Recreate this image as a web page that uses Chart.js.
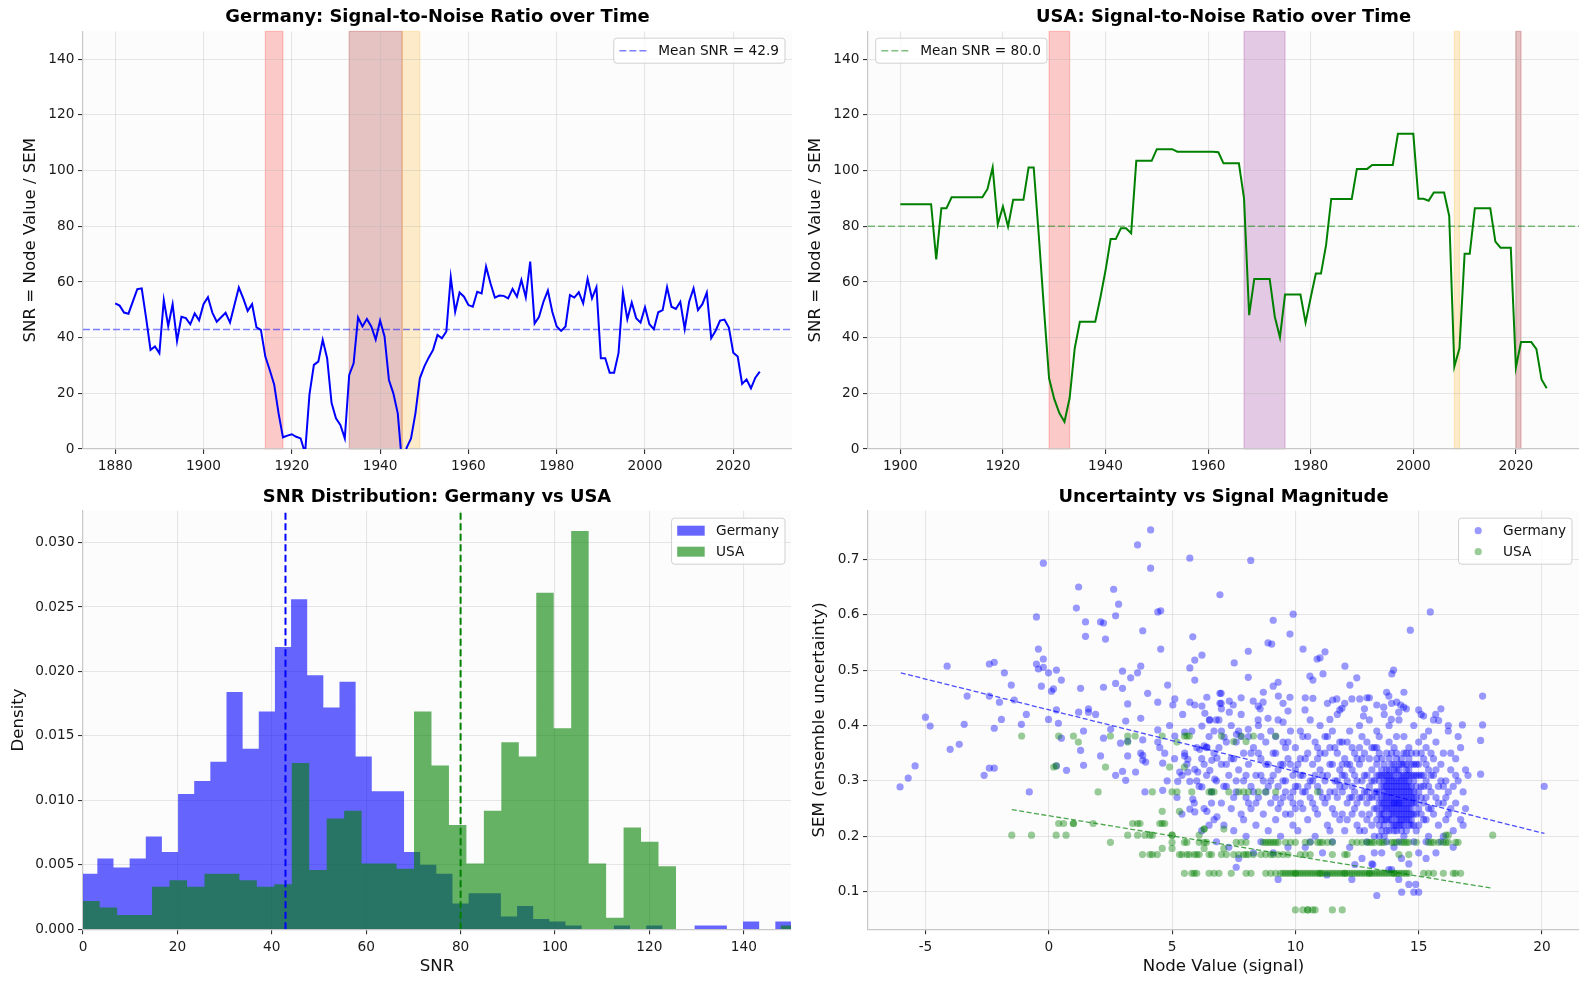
<!DOCTYPE html>
<html>
<head>
<meta charset="utf-8">
<title>SNR: Germany vs USA</title>
<script src="https://cdn.jsdelivr.net/npm/chart.js@4.4.0/dist/chart.umd.min.js"></script>
<style>
  html, body { margin: 0; padding: 0; background: #fff; }
  body { width: 1587px; height: 986px; position: relative; overflow: hidden; }
  canvas { position: absolute; }
</style>
</head>
<body>
<canvas id="germanyTs" width="800" height="490" style="left:0;top:0"></canvas>
<canvas id="usaTs" width="787" height="490" style="left:800px;top:0"></canvas>
<canvas id="snrHist" width="800" height="506" style="left:0;top:480px"></canvas>
<canvas id="semScatter" width="787" height="506" style="left:800px;top:480px"></canvas>
<script>
const FONT = "'DejaVu Sans', sans-serif";

// ---- yearly SNR series
const germanyStartYear = 1880;
const germanySnr = [
  52.3, 51.5, 49, 48.6, 53, 57.4, 57.7, 47, 35.6, 36.8,      // 1880s
  34.4, 53.5, 44.2, 52, 38.8, 47.5, 47, 44.8, 48.7, 46.2,    // 1890s
  52, 54.5, 49, 45.7, 47.3, 48.9, 45.4, 51.7, 58, 54.1,      // 1900s
  49.6, 52, 43.7, 42.8, 33.2, 28.4, 23.2, 12.8, 4.2, 4.8,    // 1910s
  5.3, 4.4, 3.8, -1.5, 19.6, 30.2, 31.4, 39.2, 32.6, 16.6,   // 1920s
  11, 8.6, 3.8, 26.6, 30.8, 47.3, 44, 46.7, 44, 39.3,        // 1930s
  46.1, 40.4, 24.8, 20, 12.8, -6, 0.4, 3.8, 12.8, 25.4,      // 1940s
  29.6, 32.8, 35.6, 41, 39.8, 42.2, 61.7, 49.3, 56.2, 54.7,  // 1950s
  51.7, 51.1, 56.5, 55.9, 65.5, 59.5, 54.4, 55.1, 55, 54.1,  // 1960s
  57.5, 54.7, 60.7, 54.5, 67.3, 45.1, 47.5, 52.9, 56.9, 49.3,// 1970s
  44, 42.4, 44, 55.3, 54.4, 56.3, 52.3, 61.1, 54.1, 58.1,    // 1980s
  32.6, 32.6, 27.4, 27.4, 34.4, 56.2, 46.6, 52.6, 47, 45.4,  // 1990s
  50.9, 44.8, 43, 49.1, 49.9, 58.1, 51.1, 50.3, 52.9, 43.1,  // 2000s
  52.9, 57.7, 49.9, 52, 56.2, 39.8, 42.5, 46.1, 46.5, 43.6,  // 2010s
  34.6, 33.2, 23.4, 25, 21.8, 25.6, 27.8                     // 2020s
];
const germanyMeanSnr = 42.9;

const usaStartYear = 1900;
const usaSnr = [
  87.9, 87.9, 87.9, 87.9, 87.9, 87.9, 87.9, 68.1, 86.5, 86.5,
  90.4, 90.4, 90.4, 90.4, 90.4, 90.4, 90.4, 93.4, 101.1, 80.7,
  87.1, 79.9, 89.5, 89.5, 89.5, 101.1, 101.1, 76.5, 50.4, 25.4,
  18, 12.9, 9.8, 18.2, 36.2, 45.7, 45.7, 45.7, 45.7, 54.4,
  64.1, 75.4, 75.4, 79.3, 79.3, 77.5, 103.5, 103.5, 103.5, 103.5,
  107.7, 107.7, 107.7, 107.7, 106.8, 106.8, 106.8, 106.8, 106.8, 106.8,
  106.8, 106.8, 106.6, 102.6, 102.6, 102.6, 102.6, 90, 48.1, 61.1,
  61.1, 61.1, 61.1, 47.5, 40.1, 55.5, 55.5, 55.5, 55.5, 45.4,
  54.4, 63, 63, 73.3, 89.8, 89.8, 89.8, 89.8, 89.8, 100.6,
  100.6, 100.6, 102, 102, 102, 102, 102, 113.2, 113.2, 113.2,
  113.2, 89.9, 89.9, 89.2, 92.1, 92.1, 92.1, 83.7, 29.6, 36.2,
  70.1, 70.1, 86.5, 86.5, 86.5, 86.5, 74.5, 72.3, 72.3, 72.3,
  29.3, 38.4, 38.4, 38.4, 35.9, 25, 21.8
];
const usaMeanSnr = 80.0;

// shaded periods (years)
const germanyPeriodStart = [1914, 1933, 1945];
const germanyPeriodEnd   = [1918, 1945, 1949];
const usaPeriodStart = [1929, 1967, 2008, 2020];
const usaPeriodEnd   = [1933, 1975, 2009, 2021];

// ---- SNR histograms (density per bin)
const germanyBinStart = -0.38;
const germanyBinWidth = 3.42;
const germanyDensity = [
  0.0043, 0.0055, 0.0048, 0.0055, 0.0072, 0.0060, 0.0105, 0.0115, 0.0130, 0.0184,
  0.0140, 0.0169, 0.0219, 0.0256, 0.0197, 0.0172, 0.0192, 0.0134, 0.0107, 0.0107,
  0.0060, 0.0050, 0.0043, 0.0020, 0.0028, 0.0028, 0.0010, 0.0018, 0.0008, 0.0006,
  0.0003, 0, 0, 0.0003, 0, 0.0003, 0, 0, 0.0003, 0.0003,
  0, 0.0006, 0, 0.0006
];
const usaBinStart = -0.17;
const usaBinWidth = 3.7;
const usaDensity = [
  0.0022, 0.0017, 0.0011, 0.0011, 0.0033, 0.0038, 0.0033, 0.0043, 0.0043, 0.0038,
  0.0033, 0.0035, 0.0129, 0.0046, 0.0086, 0.0092, 0.0051, 0.0051, 0.0047, 0.0169,
  0.0127, 0.0081, 0.0051, 0.0092, 0.0145, 0.0134, 0.0261, 0.0156, 0.0309, 0.0051,
  0.0009, 0.0079, 0.0068, 0.0049, 0, 0, 0, 0, 0, 0,
  0.0003
];

// ---- node value vs SEM  [node value, SEM]
const germanyPoints = [
  [-6.03,.289],[-5.70,.305],[-5.42,.327],[-5.0,.415],[-4.81,.399],[-4.12,.507],[-4.0,.357],[-3.63,.366],[-3.43,.402],[-3.31,.453],
  [-2.62,.310],[-2.41,.511],[-2.41,.453],[-2.41,.323],[-2.21,.514],[-2.21,.395],[-2.21,.323],[-2.0,.442],[-1.92,.411],[-1.80,.495],
  [-1.52,.473],[-1.40,.446],[-1.11,.402],[-0.91,.420],[-0.79,.280],[-0.50,.596],[-0.50,.511],[-0.42,.538],[-0.42,.502],[-0.30,.471],
  [-0.22,.693],[-0.22,.520],[-0.22,.505],[-0.01,.495],[-0.01,.411],[0.11,.462],[0.19,.466],[0.31,.500],[0.31,.428],[0.31,.327],
  [0.39,.404],[0.51,.482],[0.51,.377],[0.72,.319],[1.12,.612],[1.21,.650],[1.21,.424],[1.29,.467],[1.29,.355],[1.41,.390],
  [1.41,.328],[1.49,.587],[1.49,.561],[1.61,.430],[1.61,.424],[1.90,.420],[2.10,.587],[2.10,.345],[2.22,.585],[2.22,.469],
  [2.22,.377],[2.30,.556],[2.51,.393],[2.63,.646],[2.71,.598],[2.71,.476],[2.71,.310],[2.83,.619],[2.91,.368],[2.99,.498],
  [2.99,.467],[2.99,.317],[3.12,.408],[3.12,.301],[3.20,.439],[3.20,.372],[3.20,.345],[3.32,.486],[3.52,.316],[3.60,.726],
  [3.60,.495],[3.73,.507],[3.73,.413],[3.73,.350],[3.81,.571],[3.81,.374],[3.81,.346],[3.81,.337],[3.93,.334],[4.01,.458],
  [4.13,.753],[4.13,.684],[4.42,.605],[4.42,.442],[4.42,.392],[4.42,.370],[4.54,.607],[4.54,.538],[4.62,.332],[4.62,.283],
  [4.70,.350],[4.82,.473],[5.03,.437],[5.11,.448],[5.11,.381],[5.23,.299],[5.31,.316],[5.43,.420],[5.51,.388],[5.51,.350],
  [5.51,.345],[5.64,.339],[5.64,.316],[5.72,.702],[5.72,.504],[5.72,.442],[5.72,.299],[5.72,.249],[5.84,.560],[5.84,.267],
  [5.92,.518],[5.92,.482],[5.92,.437],[5.92,.321],[5.92,.244],[6.04,.316],[6.12,.357],[6.21,.527],[6.21,.435],[6.21,.399],
  [6.21,.289],[6.33,.422],[6.41,.451],[6.41,.361],[6.41,.245],[6.53,.410],[6.53,.319],[6.61,.337],[6.73,.303],[6.82,.235],
  [6.82,.341],[6.94,.458],[6.94,.440],[6.94,.636],[4.8,.30],[5.2,.27],[5.6,.33],[5.9,.26],[6.0,.36],[5.4,.24],[4.5,.36],[3.9,.28],
  [8.19,.698],[9.91,.601],[15.47,.605],[9.10,.590],[14.66,.572],[9.78,.565],[8.89,.549],[10.31,.538],[11.20,.533],[8.09,.534],
  [11.0,.522],[7.52,.513],[12.01,.507],[13.98,.500],[13.91,.493],[10.59,.489],[11.12,.493],[12.49,.486],[8.09,.487],[10.71,.482],
  [9.30,.478],[9.10,.471],[12.21,.473],[6.99,.458],[9.31,.453],[9.78,.451],[10.71,.449],[11.51,.446],[11.68,.448],[12.29,.448],
  [12.61,.448],[13.79,.453],[17.59,.453],[15.0,.428],[15.20,.417],[15.69,.420],[15.81,.409],[16.77,.401],[17.59,.401],[17.51,.373],
  [17.51,.312],[20.09,.290],[8.69,.442],[8.29,.444],[8.49,.435],[8.57,.430],[7.32,.444],[7.48,.437],[7.32,.424],[6.99,.440],
  [6.51,.410],[6.79,.410],[9.70,.426],[10.39,.428],[11.40,.411],[11.80,.428],[11.89,.431],[12.76,.417],[13.30,.437],[13.58,.433],
  [13.89,.411],[14.11,.442],[14.27,.437],[14.39,.433],[14.19,.424],[9.50,.406],[8.89,.413],[8.49,.410],[8.09,.393],[7.61,.384],
  [7.11,.379],[6.30,.363],[9.04,.547],[10.88,.520],
  [13.30,.093],[14.31,.099],[14.80,.099],[15.0,.099],[14.60,.113],[14.88,.113],[9.30,.122],[14.19,.122],[12.29,.122],[7.60,.144],
  [11.28,.130],[13.79,.140],[13.14,.149],[12.41,.149],
  [6.1,.29],[6.2,.34],[6.3,.25],[6.4,.31],[6.5,.38],[6.5,.22],[6.6,.28],[6.7,.35],[6.8,.19],[6.8,.30],
  [6.9,.41],[7.0,.26],[7.0,.33],[7.1,.22],[7.2,.37],[7.2,.29],[7.3,.18],[7.3,.31],[7.4,.40],[7.4,.25],
  [7.5,.34],[7.5,.21],[7.6,.28],[7.6,.37],[7.7,.32],[7.7,.16],[7.8,.24],[7.8,.42],[7.9,.30],[7.9,.35],
  [8.0,.27],[8.0,.20],[8.1,.33],[8.1,.38],[8.2,.25],[8.2,.29],[8.3,.17],[8.3,.36],[8.4,.31],[8.4,.22],
  [8.5,.27],[8.5,.40],[8.6,.34],[8.6,.19],[8.7,.30],[8.7,.24],[8.8,.37],[8.8,.28],[8.9,.21],[8.9,.33],
  [9.0,.26],[9.0,.39],[9.1,.31],[9.1,.17],[9.2,.35],[9.2,.23],[9.3,.29],[9.3,.41],[9.4,.26],[9.4,.20],
  [9.5,.33],[9.5,.37],[9.6,.24],[9.6,.30],[9.7,.18],[9.7,.34],[9.8,.27],[9.8,.39],[9.9,.22],[9.9,.31],
  [10.0,.36],[10.0,.25],[6.9,.36],[7.6,.30],[8.3,.28],[9.0,.30],[9.6,.28],[7.1,.29],[8.8,.33],[9.9,.28],
  [6.4,.36],[7.9,.23],[8.6,.31],[9.3,.32],[6.7,.23],[7.4,.34],[8.1,.26],[9.5,.27],[6.2,.21],[7.0,.39],
  [7.8,.38],[8.5,.35],[9.2,.38],[9.8,.33],
  [10.1,.29],[10.1,.21],[10.2,.34],[10.2,.26],[10.3,.38],[10.3,.31],[10.4,.18],[10.4,.28],[10.5,.35],[10.5,.23],
  [10.6,.30],[10.6,.41],[10.7,.26],[10.7,.33],[10.8,.20],[10.8,.37],[10.9,.29],[10.9,.24],[11.0,.32],[11.0,.40],
  [11.1,.27],[11.1,.17],[11.2,.35],[11.2,.30],[11.3,.22],[11.3,.38],[11.4,.28],[11.4,.33],[11.5,.25],[11.5,.19],
  [11.6,.36],[11.6,.30],[11.7,.27],[11.7,.42],[11.8,.23],[11.8,.32],[11.9,.37],[11.9,.28],[12.0,.21],[12.0,.34],
  [12.1,.30],[12.1,.26],[12.2,.39],[12.2,.18],[12.3,.32],[12.3,.24],[12.4,.35],[12.4,.28],[12.5,.30],[12.5,.22],
  [10.3,.25],[10.8,.31],[11.2,.26],[11.6,.24],[12.0,.29],[12.4,.31],[10.5,.29],[11.0,.35],[11.4,.21],[11.9,.33],
  [12.2,.27],[10.0,.32],[10.6,.19],[11.3,.31],[11.8,.37],[12.3,.36],[10.9,.34],[11.5,.39],[12.1,.23],[10.2,.39],
  [12.6,.27],[12.6,.33],[12.7,.24],[12.7,.30],[12.7,.38],[12.8,.21],[12.8,.28],[12.8,.35],[12.9,.26],[12.9,.31],
  [12.9,.19],[13.0,.29],[13.0,.24],[13.0,.34],[13.0,.41],[13.1,.27],[13.1,.22],[13.1,.32],[13.2,.25],[13.2,.30],
  [13.2,.36],[13.2,.17],[13.3,.28],[13.3,.23],[13.3,.33],[13.4,.26],[13.4,.31],[13.4,.20],[13.4,.38],[13.5,.24],
  [13.5,.29],[13.5,.27],[13.5,.34],[13.6,.22],[13.6,.28],[13.6,.31],[13.6,.25],[13.7,.26],[13.7,.30],[13.7,.23],
  [13.7,.35],[13.7,.19],[13.8,.27],[13.8,.29],[13.8,.24],[13.8,.32],[13.8,.40],[13.9,.25],[13.9,.28],[13.9,.22],
  [13.9,.31],[13.9,.27],[14.0,.26],[14.0,.29],[14.0,.24],[14.0,.33],[14.0,.21],[14.0,.36],[14.1,.27],[14.1,.25],
  [14.1,.30],[14.1,.23],[14.1,.28],[14.2,.26],[14.2,.29],[14.2,.24],[14.2,.32],[14.2,.19],[14.3,.27],[14.3,.25],
  [14.3,.30],[14.3,.22],[14.3,.34],[14.4,.28],[14.4,.26],[14.4,.23],[14.4,.31],[14.4,.38],[14.5,.27],[14.5,.24],
  [14.5,.29],[14.5,.21],[14.5,.33],[14.6,.26],[14.6,.28],[14.6,.23],[14.6,.31],[14.7,.25],[14.7,.29],[14.7,.22],
  [14.7,.35],[14.8,.27],[14.8,.24],[14.8,.31],[14.8,.19],[14.9,.26],[14.9,.29],[14.9,.33],[15.0,.25],[15.0,.28],
  [15.0,.22],[15.0,.37],[15.1,.27],[15.1,.31],[15.1,.24],[15.2,.29],[15.2,.26],[15.2,.34],[15.3,.23],[15.3,.30],
  [15.3,.27],[15.4,.25],[15.4,.32],[15.4,.20],[15.5,.28],[15.5,.35],
  [12.6,.40],[12.8,.43],[13.0,.45],[13.3,.39],[13.6,.42],[13.9,.44],[14.2,.41],[14.5,.43],[14.8,.40],[15.1,.42],
  [15.4,.39],[12.7,.16],[13.1,.15],[13.5,.17],[13.9,.14],[14.3,.16],[14.6,.15],[15.0,.17],[15.3,.16],[12.9,.37],
  [13.3,.36],[13.8,.37],[14.1,.38],[14.6,.36],[15.0,.33],[15.2,.38],[13.6,.20],[14.0,.18],[14.4,.20],[14.9,.21],
  [15.3,.19],[12.6,.21],[13.2,.20],
  [13.4,.28],[13.5,.25],[13.6,.27],[13.7,.28],[13.8,.26],[13.9,.30],[14.0,.27],[14.1,.26],[14.2,.28],[14.3,.29],
  [14.4,.27],[14.5,.26],[14.6,.29],[14.7,.27],[13.5,.31],[13.7,.32],[14.0,.31],[14.2,.30],[14.4,.30],[14.6,.32],
  [13.6,.24],[13.8,.23],[14.1,.24],[14.3,.24],[14.5,.25],[14.7,.24],[13.9,.26],[14.2,.25],[14.4,.25],[14.0,.28],
  [13.8,.30],[14.3,.28],[14.6,.27],[13.4,.24],[13.6,.30],[14.1,.32],[14.8,.28],[13.7,.27],[14.2,.27],[14.5,.28],
  [13.3,.27],[13.3,.31],[13.4,.22],[13.5,.32],[13.5,.21],[13.6,.26],[13.6,.33],[13.7,.25],[13.7,.29],[13.8,.21],
  [13.8,.25],[13.8,.34],[13.9,.24],[13.9,.29],[13.9,.33],[14.0,.22],[14.0,.25],[14.0,.30],[14.1,.21],[14.1,.29],
  [14.1,.34],[14.2,.23],[14.2,.31],[14.2,.33],[14.3,.26],[14.3,.31],[14.3,.21],[14.4,.24],[14.4,.29],[14.4,.33],
  [14.5,.23],[14.5,.30],[14.5,.31],[14.6,.25],[14.6,.22],[14.6,.34],[14.7,.26],[14.7,.31],[14.7,.28],[14.8,.26],
  [14.8,.22],[14.8,.33],[14.9,.24],[14.9,.27],[14.9,.31],[13.4,.30],[13.6,.29],[13.8,.28],[14.0,.26],[14.2,.26],
  [14.4,.22],[14.6,.30],[13.5,.26],[13.7,.31],[13.9,.23],[14.1,.22],[14.3,.33],[14.5,.32],[14.7,.23],[13.6,.23],
  [13.8,.31],[14.0,.32],[14.2,.22],[14.4,.35],[14.6,.24],[14.8,.30],[13.3,.25],[13.5,.23],[13.7,.21],[13.9,.35],
  [14.1,.35],[14.3,.23],[14.5,.35],[14.7,.33],
  [15.6,.24],[15.6,.31],[15.7,.27],[15.7,.37],[15.8,.22],[15.8,.29],[15.9,.33],[15.9,.19],[16.0,.26],[16.0,.35],
  [16.1,.30],[16.1,.23],[16.2,.28],[16.2,.39],[16.3,.25],[16.3,.32],[16.4,.21],[16.4,.29],[16.5,.34],[16.5,.26],
  [16.6,.30],[16.7,.23],[16.7,.36],[16.8,.28],[16.9,.32],[16.9,.25],[15.6,.41],[15.9,.43],[16.2,.40],[16.6,.38],
  [15.7,.17],[16.0,.20],[16.4,.18],[16.8,.22],[17.0,.31],
  [7.2,.33],[7.5,.27],[7.7,.39],[8.0,.31],[8.2,.35],[8.4,.26],[8.6,.38],[8.9,.29],[9.1,.35],[9.3,.25],
  [9.5,.30],[9.7,.37],[9.9,.26],[10.1,.33],[10.3,.28],[10.5,.38],[10.7,.30],[10.9,.36],[11.1,.31],[11.3,.27],
  [11.5,.33],[11.7,.35],[11.9,.24],[12.1,.37],[12.3,.29],[12.5,.34],[12.7,.27],[12.9,.23],[13.1,.36],[13.3,.34],
  [9.2,.27],[9.4,.33],[9.6,.36],[9.8,.24],[10.0,.29],[10.2,.31],[10.4,.34],[10.6,.27],[10.8,.25],[11.0,.28],
  [11.2,.38],[11.4,.36],[11.6,.28],[11.8,.29],[12.0,.31],[12.2,.33],[12.4,.25],[12.6,.36],[12.8,.31],[13.0,.27],
  [12.9,.28],[13.1,.30],[13.2,.28],[13.4,.35],[12.7,.34],[12.5,.26],[12.3,.27],[12.1,.33],[11.9,.31],[11.7,.30],
  [15.1,.35],[15.2,.23],[15.3,.33],[15.4,.29],[15.5,.25],[15.6,.34],[15.8,.26],[15.9,.30],[16.1,.27],[16.3,.35],
  [15.0,.31],[15.1,.29],[15.2,.31],[14.9,.35],[15.3,.36],[15.5,.31],[15.7,.32],[16.0,.29],[16.2,.24],[16.5,.31],
  [7.0,.43],[7.8,.45],[8.7,.46],[9.5,.44],[10.4,.45],[11.3,.44],[12.0,.44],[12.9,.45],[13.7,.46],[14.4,.46],
  [5.4,.31],[6.0,.30],[6.6,.26],[5.1,.34],[6.3,.33],[4.9,.40],[5.8,.39],[6.7,.39]
];
const usaPoints = [
  [-1.1,.381],[0.4,.381],[1.0,.381],[2.5,.381],[3.2,.381],[3.5,.381],[4.6,.381],[5.5,.381],[5.6,.381],[5.7,.381],
  [7.0,.381],[7.8,.381],[8.3,.381],[9.2,.381],[1.2,.370],[3.2,.370],[5.2,.370],[7.5,.371],[8.0,.371],
  [0.2,.325],[0.3,.327],[2.3,.325],[4.9,.325],[5.5,.325],
  [2.0,.28],[4.2,.28],[5.0,.28],[5.2,.28],[5.8,.28],[6.5,.28],[6.6,.28],[6.7,.28],[7.3,.28],[7.7,.28],
  [7.9,.28],[8.1,.28],[8.5,.28],[8.8,.28],[9.2,.28],[10.9,.28],
  [4.6,.245],[5.3,.245],
  [0.4,.223],[0.6,.223],[1.0,.223],[1.0,.223],[1.8,.223],[3.4,.223],[3.6,.223],[3.7,.223],[4.5,.223],[4.6,.223],[4.7,.223],
  [6.3,.213],[6.3,.213],[7.1,.213],
  [-1.5,.202],[-0.7,.202],[0.3,.202],[0.7,.202],[3.2,.202],[3.6,.202],[3.9,.202],[4.1,.202],[4.2,.202],[5.0,.202],
  [5.0,.202],[6.1,.202],[16.1,.202],[16.2,.202],[18.0,.202],
  [2.5,.189],[5.0,.189],[5.5,.189],[5.6,.189],[6.1,.189],[6.4,.189],[7.6,.189],[7.8,.189],[8.0,.189],[8.7,.189],
  [8.9,.189],[9.1,.189],[9.3,.189],[9.6,.189],[9.8,.189],[10.0,.189],[10.4,.189],[10.6,.189],[10.9,.189],[11.1,.189],
  [11.3,.189],[11.5,.189],[12.3,.189],[12.5,.189],[12.7,.189],[13.2,.189],[13.4,.189],[13.9,.189],[14.1,.189],[14.4,.189],
  [14.6,.189],[14.9,.189],[15.4,.189],[15.6,.189],[15.8,.189],[16.0,.189],[16.2,.189],[16.5,.189],[9.2,.189],[11.0,.189],
  [13.0,.189],[13.6,.189],[14.0,.189],[15.5,.189],[12.9,.189],[13.1,.189],[13.5,.189],[14.3,.189],[14.5,.189],[8.8,.189],
  [9.0,.189],[16.1,.189],[16.6,.189],[6.3,.189],
  [4.6,.178],[5.0,.178],[6.3,.178],[7.1,.178],
  [3.8,.167],[4.1,.167],[4.2,.167],[4.4,.167],[5.3,.167],[5.4,.167],[5.6,.167],[5.7,.167],[5.9,.167],[6.0,.167],
  [6.1,.167],[6.5,.167],[6.6,.167],[7.0,.167],[7.2,.167],[7.5,.167],[7.7,.167],[7.9,.167],[8.1,.167],[8.3,.167],
  [8.6,.167],[8.8,.167],[9.0,.167],[9.3,.167],[9.5,.167],[9.7,.167],[10.4,.167],[10.6,.167],[11.5,.167],[12.0,.167],
  [12.1,.167],[14.2,.167],[14.6,.167],[8.0,.167],[9.1,.167],[10.2,.167],
  [5.5,.133],[5.8,.133],[5.9,.133],[6.0,.133],[6.5,.133],[6.7,.133],[6.9,.133],[7.4,.133],[8.0,.133],[8.2,.133],
  [8.8,.133],[9.0,.133],[9.2,.133],[9.4,.133],[9.6,.133],[9.8,.133],[10.0,.133],[10.2,.133],[10.4,.133],[10.6,.133],
  [10.8,.133],[11.0,.133],[11.2,.133],[11.4,.133],[11.6,.133],[11.8,.133],[12.0,.133],[12.2,.133],[12.4,.133],[12.6,.133],
  [12.8,.133],[13.0,.133],[13.2,.133],[13.4,.133],[13.6,.133],[13.8,.133],[14.0,.133],[14.2,.133],[14.4,.133],[14.6,.133],
  [15.2,.133],[15.4,.133],[15.6,.133],[16.0,.133],[16.4,.133],[16.5,.133],[16.7,.133],[10.1,.133],[10.5,.133],[11.1,.133],
  [11.5,.133],[12.1,.133],[12.5,.133],[13.1,.133],[13.5,.133],[14.1,.133],[14.5,.133],[9.5,.133],[10.9,.133],[12.9,.133],
  [13.9,.133],[11.7,.133],[12.7,.133],[13.3,.133],[9.7,.133],[9.9,.133],[10.3,.133],[10.7,.133],[11.3,.133],[11.9,.133],
  [12.3,.133],[13.7,.133],[14.3,.133],[12.0,.133],[13.0,.133],[14.0,.133],[10.0,.133],[11.0,.133],
  [10.0,.067],[10.3,.067],[10.5,.067],[10.5,.067],[10.7,.067],[10.8,.067],[11.5,.067],[11.9,.067]
];
// fitted trend lines (end points)
const germanyTrendX = [-6.0, 20.1];
const germanyTrendY = [0.495, 0.205];
const usaTrendX = [-1.5, 18.0];
const usaTrendY = [0.248, 0.106];

// ---- tick labels
const germanyYearTicks = [1880, 1900, 1920, 1940, 1960, 1980, 2000, 2020];
const usaYearTicks = [1900, 1920, 1940, 1960, 1980, 2000, 2020];
const snrTicks = [0, 20, 40, 60, 80, 100, 120, 140];
const densityTicks = [0, 0.005, 0.01, 0.015, 0.02, 0.025, 0.03];
const nodeValueTicks = [-5, 0, 5, 10, 15, 20];
const semTicks = [0.1, 0.2, 0.3, 0.4, 0.5, 0.6, 0.7];

// ---- styling
const GRID = 'rgba(176,176,176,0.3)';
const RED = 'rgba(255,0,0,0.2)';
const BROWN = 'rgba(165,42,42,0.27)';
const ORANGE = 'rgba(255,165,0,0.2)';
const PURPLE = 'rgba(128,0,128,0.2)';
const germanyPeriodColors = [RED, BROWN, ORANGE];
const usaPeriodColors = [RED, PURPLE, ORANGE, BROWN];
const DOT = 3.6;

Chart.defaults.font.family = FONT;
Chart.defaults.color = '#111';

function yearSeries(start, values) {
  return values.map((v, i) => ({ x: start + i, y: v }));
}

function histSteps(start, width, dens) {
  const pts = dens.map((d, i) => ({ x: start + i * width, y: d }));
  pts.push({ x: start + dens.length * width, y: 0 });
  return pts;
}

function pairs(list) {
  return list.map(p => ({ x: p[0], y: p[1] }));
}

function zip(xs, ys) {
  return xs.map((x, i) => ({ x, y: ys[i] }));
}

function axis(o) {
  return {
    type: 'linear',
    min: o.min,
    max: o.max,
    z: o.z || 0,
    afterBuildTicks: s => { s.ticks = o.ticks.map(v => ({ value: v })); },
    afterFit: s => {
      if (o.width != null) s.width = o.width;
      if (o.height != null) s.height = o.height;
    },
    grid: { color: GRID, lineWidth: 1.1, tickColor: '#333', tickLength: 5, tickWidth: 1.1 },
    border: { color: '#c8c8c8', width: 1.2 },
    ticks: {
      color: '#1a1a1a', font: { size: 13.7 }, padding: o.height != null ? 4.5 : 3.5,
      maxRotation: 0, autoSkip: false, callback: o.fmt || (v => String(v))
    },
    title: o.title
      ? { display: true, text: o.title, color: '#111', font: { size: 16.6 }, padding: o.titlePad }
      : { display: false }
  };
}

function titleOpts(text, top, bottom) {
  return {
    display: true, text, fullSize: false, color: '#000',
    font: { size: 17.9, weight: 'bold' },
    padding: { top, bottom }
  };
}

function drawLegend(chart, lg) {
  const { ctx, chartArea: a } = chart;
  ctx.save();
  ctx.font = '13.7px ' + FONT;
  const textW = Math.max(...lg.items.map(it => ctx.measureText(it.label).width));
  const w = 44.5 + textW + 6;
  const h = 4 + lg.items.length * 21;
  const left = lg.side === 'right' ? a.right - lg.inset - w : a.left + lg.inset;
  const top = a.top + lg.top;
  ctx.beginPath();
  ctx.roundRect(left, top, w, h, 3);
  ctx.fillStyle = 'rgba(255,255,255,0.8)';
  ctx.fill();
  ctx.strokeStyle = '#d0d0d0';
  ctx.lineWidth = 1;
  ctx.stroke();
  lg.items.forEach((it, i) => {
    const cy = top + 12.5 + i * 21;
    const sx = left + 5.6;
    if (it.kind === 'dash') {
      ctx.beginPath();
      ctx.setLineDash([7, 3]);
      ctx.strokeStyle = it.color;
      ctx.lineWidth = 1.6;
      ctx.moveTo(sx, cy);
      ctx.lineTo(sx + 27.5, cy);
      ctx.stroke();
      ctx.setLineDash([]);
    } else if (it.kind === 'rect') {
      ctx.fillStyle = it.color;
      ctx.fillRect(sx, cy - 5, 27.5, 10);
    } else {
      ctx.beginPath();
      ctx.arc(sx + 14, cy, DOT, 0, Math.PI * 2);
      ctx.fillStyle = it.color;
      ctx.fill();
    }
    ctx.fillStyle = '#111';
    ctx.textBaseline = 'middle';
    ctx.textAlign = 'left';
    ctx.fillText(it.label, left + 44.5, cy + 0.5);
  });
  ctx.restore();
}

// panel background, shaded periods and in-axes legend
function decor(starts, ends, colors, legend) {
  return {
    id: 'decor',
    beforeDraw(chart) {
      const { ctx, chartArea: a } = chart;
      const xs = chart.scales.x;
      ctx.save();
      ctx.fillStyle = '#fcfcfc';
      ctx.fillRect(a.left, a.top, a.width, a.height);
      starts.forEach((s, i) => {
        const x0 = Math.max(a.left, xs.getPixelForValue(s));
        const x1 = Math.min(a.right, xs.getPixelForValue(ends[i]));
        ctx.fillStyle = colors[i];
        ctx.fillRect(x0, a.top, x1 - x0, a.height);
        ctx.strokeStyle = colors[i];
        ctx.lineWidth = 1.2;
        ctx.strokeRect(x0, a.top, x1 - x0, a.height);
      });
      ctx.restore();
    },
    afterDraw(chart) {
      if (legend) drawLegend(chart, legend);
    }
  };
}

const base = { responsive: false, animation: false, devicePixelRatio: 1, events: [] };

// ---------- Germany time series
const gMin = 1872.7, gMax = 2033.3;
new Chart(document.getElementById('germanyTs'), {
  type: 'line',
  data: {
    datasets: [
      { data: zip([gMin, gMax], [germanyMeanSnr, germanyMeanSnr]), borderColor: 'rgba(0,0,255,0.5)',
        borderWidth: 1.6, borderDash: [7, 3], pointRadius: 0 },
      { data: yearSeries(germanyStartYear, germanySnr), borderColor: '#0000ff', borderWidth: 2, pointRadius: 0 }
    ]
  },
  options: Object.assign({}, base, {
    layout: { padding: { left: 0, right: 8, top: 0, bottom: 0 } },
    plugins: {
      legend: { display: false }, tooltip: { enabled: false },
      title: titleOpts('Germany: Signal-to-Noise Ratio over Time', 6.4, 3.5)
    },
    scales: {
      x: axis({ min: gMin, max: gMax, ticks: germanyYearTicks, height: 41 }),
      y: axis({ min: 0, max: 150, ticks: snrTicks, width: 83, title: 'SNR = Node Value / SEM', titlePad: { top: 20.5, bottom: 0 } })
    }
  }),
  plugins: [decor(germanyPeriodStart, germanyPeriodEnd, germanyPeriodColors, {
    side: 'right', inset: 7, top: 6.8,
    items: [{ kind: 'dash', color: 'rgba(0,0,255,0.5)', label: 'Mean SNR = ' + germanyMeanSnr.toFixed(1) }]
  })]
});

// ---------- USA time series
const uMin = 1893.7, uMax = 2032.3;
new Chart(document.getElementById('usaTs'), {
  type: 'line',
  data: {
    datasets: [
      { data: zip([uMin, uMax], [usaMeanSnr, usaMeanSnr]), borderColor: 'rgba(0,128,0,0.5)',
        borderWidth: 1.6, borderDash: [7, 3], pointRadius: 0 },
      { data: yearSeries(usaStartYear, usaSnr), borderColor: '#008000', borderWidth: 2, pointRadius: 0 }
    ]
  },
  options: Object.assign({}, base, {
    layout: { padding: { left: 0, right: 8, top: 0, bottom: 0 } },
    plugins: {
      legend: { display: false }, tooltip: { enabled: false },
      title: titleOpts('USA: Signal-to-Noise Ratio over Time', 6.4, 3.5)
    },
    scales: {
      x: axis({ min: uMin, max: uMax, ticks: usaYearTicks, height: 41 }),
      y: axis({ min: 0, max: 150, ticks: snrTicks, width: 68, title: 'SNR = Node Value / SEM', titlePad: { top: 6, bottom: 0 } })
    }
  }),
  plugins: [decor(usaPeriodStart, usaPeriodEnd, usaPeriodColors, {
    side: 'left', inset: 7.7, top: 6.8,
    items: [{ kind: 'dash', color: 'rgba(0,128,0,0.5)', label: 'Mean SNR = ' + usaMeanSnr.toFixed(1) }]
  })]
});

// ---------- SNR histogram
const hMax = 0.03248;
new Chart(document.getElementById('snrHist'), {
  type: 'line',
  data: {
    datasets: [
      { data: zip([germanyMeanSnr, germanyMeanSnr], [0, hMax]), borderColor: '#0000ff', borderWidth: 2,
        borderDash: [7, 3.5], pointRadius: 0 },
      { data: zip([usaMeanSnr, usaMeanSnr], [0, hMax]), borderColor: '#008000', borderWidth: 2,
        borderDash: [7, 3.5], pointRadius: 0 },
      { data: histSteps(usaBinStart, usaBinWidth, usaDensity), stepped: true, fill: 'origin',
        backgroundColor: 'rgba(0,128,0,0.6)', borderColor: 'transparent', borderWidth: 0, pointRadius: 0 },
      { data: histSteps(germanyBinStart, germanyBinWidth, germanyDensity), stepped: true, fill: 'origin',
        backgroundColor: 'rgba(0,0,255,0.6)', borderColor: 'transparent', borderWidth: 0, pointRadius: 0 }
    ]
  },
  options: Object.assign({}, base, {
    layout: { padding: { left: 0, right: 9, top: 0, bottom: 0 } },
    plugins: {
      legend: { display: false }, tooltip: { enabled: false },
      title: titleOpts('SNR Distribution: Germany vs USA', 6.2, 2.9)
    },
    scales: {
      x: axis({ min: 0, max: 150, ticks: snrTicks, height: 56.7, z: 1, title: 'SNR', titlePad: { top: 0, bottom: 9 } }),
      y: axis({ min: 0, max: hMax, ticks: densityTicks, width: 83, z: 1, fmt: v => v.toFixed(3),
        title: 'Density', titlePad: { top: 9.2, bottom: 0 } })
    }
  }),
  plugins: [decor([], [], [], {
    side: 'right', inset: 6, top: 7.6,
    items: [
      { kind: 'rect', color: 'rgba(0,0,255,0.6)', label: 'Germany' },
      { kind: 'rect', color: 'rgba(0,128,0,0.6)', label: 'USA' }
    ]
  })]
});

// ---------- SEM vs node value scatter
new Chart(document.getElementById('semScatter'), {
  type: 'scatter',
  data: {
    datasets: [
      { type: 'line', data: zip(germanyTrendX, germanyTrendY), borderColor: 'rgba(0,0,255,0.7)', borderWidth: 1.3,
        borderDash: [5, 2.5], pointRadius: 0 },
      { type: 'line', data: zip(usaTrendX, usaTrendY), borderColor: 'rgba(0,128,0,0.7)', borderWidth: 1.3,
        borderDash: [5, 2.5], pointRadius: 0 },
      { data: pairs(usaPoints), pointRadius: DOT, pointBackgroundColor: 'rgba(0,128,0,0.4)',
        pointBorderWidth: 0, pointBorderColor: 'transparent' },
      { data: pairs(germanyPoints), pointRadius: DOT, pointBackgroundColor: 'rgba(0,0,255,0.4)',
        pointBorderWidth: 0, pointBorderColor: 'transparent' }
    ]
  },
  options: Object.assign({}, base, {
    layout: { padding: { left: 0, right: 8, top: 0, bottom: 0 } },
    plugins: {
      legend: { display: false }, tooltip: { enabled: false },
      title: titleOpts('Uncertainty vs Signal Magnitude', 6.2, 2.9)
    },
    scales: {
      x: axis({ min: -7.33, max: 21.5, ticks: nodeValueTicks, height: 56.7,
        title: 'Node Value (signal)', titlePad: { top: 0, bottom: 9 } }),
      y: axis({ min: 0.032, max: 0.788, ticks: semTicks, width: 68, fmt: v => v.toFixed(1),
        title: 'SEM (ensemble uncertainty)', titlePad: { top: 10, bottom: 0 } })
    }
  }),
  plugins: [decor([], [], [], {
    side: 'right', inset: 7, top: 7.6,
    items: [
      { kind: 'circle', color: 'rgba(0,0,255,0.4)', label: 'Germany' },
      { kind: 'circle', color: 'rgba(0,128,0,0.4)', label: 'USA' }
    ]
  })]
});
</script>
</body>
</html>
